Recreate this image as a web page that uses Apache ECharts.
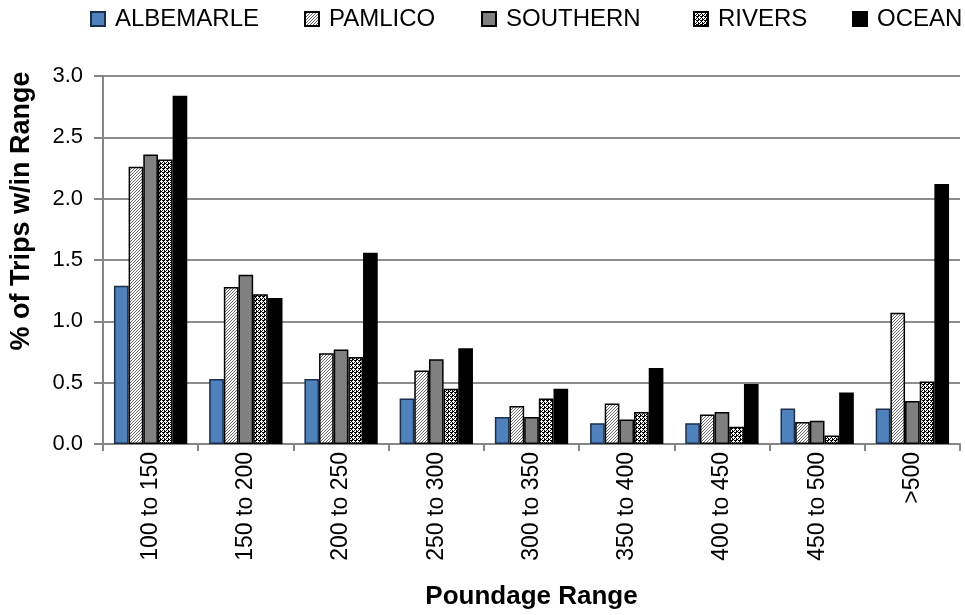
<!DOCTYPE html>
<html>
<head>
<meta charset="utf-8">
<script src="https://cdn.jsdelivr.net/npm/echarts@6/dist/echarts.min.js"></script>
<style>
html,body{margin:0;padding:0;background:#fff;}
#chart{width:965px;height:615px;}
</style>
</head>
<body>
<div id="chart"></div>
<script>
const categories = ['100 to 150','150 to 200','200 to 250','250 to 300','300 to 350','350 to 400','400 to 450','450 to 500','>500'];
const albemarle = [1.29, 0.53, 0.53, 0.37, 0.22, 0.17, 0.17, 0.29, 0.29];
const pamlico   = [2.26, 1.28, 0.74, 0.60, 0.31, 0.33, 0.24, 0.18, 1.07];
const southern  = [2.36, 1.38, 0.77, 0.69, 0.22, 0.20, 0.26, 0.19, 0.35];
const rivers    = [2.32, 1.22, 0.71, 0.45, 0.37, 0.26, 0.14, 0.07, 0.51];
const ocean     = [2.84, 1.19, 1.56, 0.78, 0.45, 0.62, 0.49, 0.42, 2.12];
const seriesNames = ['ALBEMARLE','PAMLICO','SOUTHERN','RIVERS','OCEAN'];
const yTicks = [0, 0.5, 1.0, 1.5, 2.0, 2.5, 3.0];

function makeHatch() {
  const c = document.createElement('canvas');
  c.width = 3; c.height = 3;
  const g = c.getContext('2d');
  g.fillStyle = '#ffffff'; g.fillRect(0,0,3,3);
  g.fillStyle = '#6a6a6a';
  for (let i = 0; i < 3; i++) g.fillRect(i, 2 - i, 1, 1);
  return c;
}
function makeChecker() {
  const c = document.createElement('canvas');
  c.width = 4; c.height = 4;
  const g = c.getContext('2d');
  g.fillStyle = '#000000'; g.fillRect(0,0,4,4);
  g.fillStyle = '#ffffff';
  g.fillRect(1,0,1,1); g.fillRect(0,1,3,1); g.fillRect(1,2,1,1);
  g.fillRect(3,2,1,1); g.fillRect(2,3,2,1);
  return c;
}

const fills = [
  '#4F81BD',
  { image: makeHatch(), repeat: 'repeat' },
  '#808080',
  { image: makeChecker(), repeat: 'repeat' },
  '#000000'
];
const borders = ['#1c2f4a', '#000', '#000', '#000', '#000'];
const dataArr = [albemarle, pamlico, southern, rivers, ocean];
const legendLefts = [90, 304, 481, 693, 852];

const FONT = "'Liberation Sans', Arial, sans-serif";

const chart = echarts.init(document.getElementById('chart'), null, { renderer: 'canvas' });
chart.setOption({
  animation: false,
  backgroundColor: '#ffffff',
  legend: seriesNames.map((n, i) => ({
    data: [{ name: n, icon: 'rect' }],
    left: legendLefts[i],
    top: 7,
    itemWidth: 14,
    itemHeight: 14,
    padding: 0,
    selectedMode: false,
    textStyle: { fontFamily: FONT, fontSize: 24, color: '#000', padding: [0, 0, 0, 5] }
  })),
  grid: { left: 102, right: 5, top: 76, bottom: 169, containLabel: false },
  xAxis: {
    type: 'category',
    data: categories,
    name: 'Poundage Range',
    nameLocation: 'middle',
    nameGap: 140,
    nameTextStyle: { fontFamily: FONT, fontSize: 26, fontWeight: 'bold', color: '#000' },
    axisLine: { lineStyle: { color: '#868686', width: 2 } },
    axisTick: { show: true, length: 7, lineStyle: { color: '#868686', width: 2 } },
    axisLabel: { rotate: 90, margin: 8, fontFamily: FONT, fontSize: 23, color: '#000', interval: 0 }
  },
  yAxis: {
    type: 'value',
    min: 0, max: 3, interval: 0.5,
    name: '% of Trips w/in Range',
    nameLocation: 'middle',
    nameGap: 68,
    nameTextStyle: { fontFamily: FONT, fontSize: 27, fontWeight: 'bold', color: '#000', padding: [0, 0, 0, 98] },
    axisLine: { show: true, lineStyle: { color: '#868686', width: 2 } },
    axisTick: { show: true, length: 9, lineStyle: { color: '#868686', width: 2 } },
    axisLabel: { margin: 20, fontFamily: FONT, fontSize: 22, color: '#000',
      formatter: v => (yTicks.indexOf(v) >= 0 ? v.toFixed(1) : '') },
    splitLine: { show: true, lineStyle: { color: '#8c8c8c', width: 2 } }
  },
  series: seriesNames.map((n, i) => ({
    name: n,
    type: 'bar',
    data: dataArr[i],
    barGap: '0%',
    barCategoryGap: '23%',
    itemStyle: { color: fills[i], borderColor: borders[i], borderWidth: 1.5 }
  }))
});
</script>
</body>
</html>
